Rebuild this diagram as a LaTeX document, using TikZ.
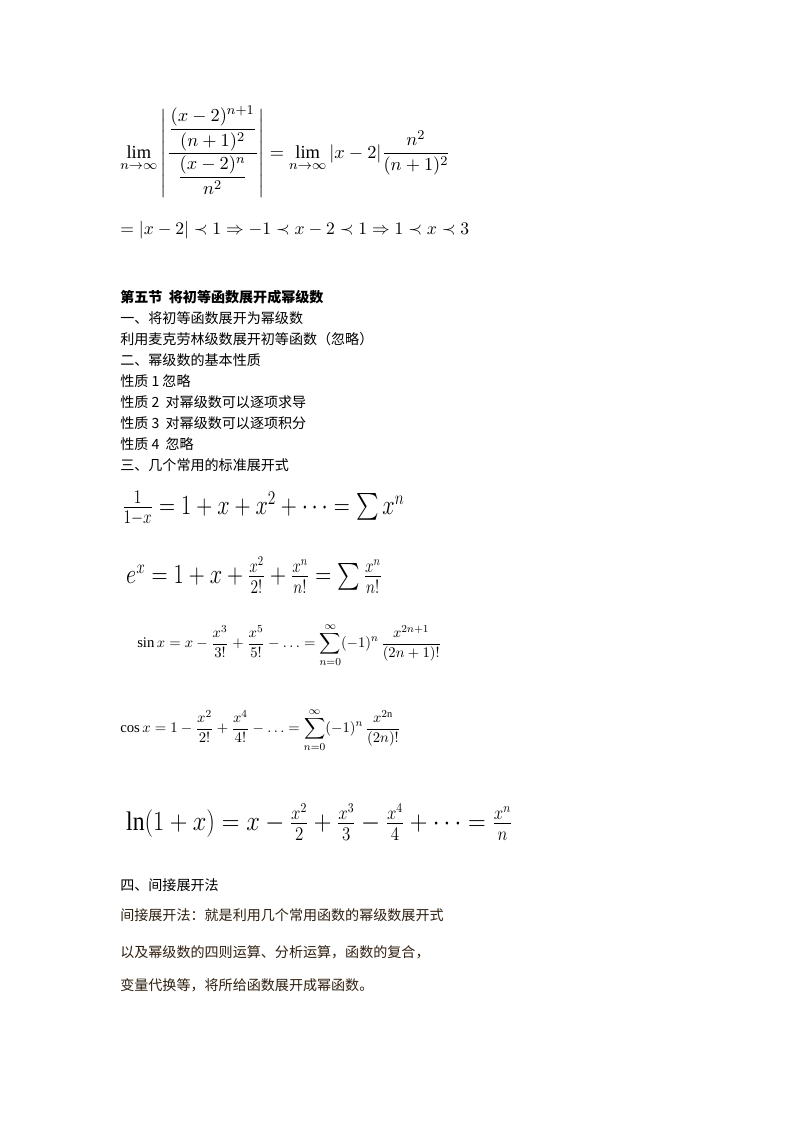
\documentclass[tikz,border=0pt]{standalone}
\usepackage{amsmath,amssymb}
\usepackage{fontspec}
\setmainfont{Liberation Serif}
\newfontfamily\cjk{Noto Sans CJK SC}
\begin{document}
\begin{tikzpicture}[x=0.02625cm,y=-0.02625cm,
  t/.style={anchor=west,inner sep=0pt,font=\cjk\fontsize{10.5}{12}\selectfont},
  tb/.style={t,font=\cjk\bfseries\fontsize{10.5}{12}\selectfont},
  tc/.style={t,text=black!75!brown},
  m/.style={anchor=west,inner sep=0pt,font=\fontsize{11}{13}\selectfont},
  g/.style={anchor=west,inner sep=0pt,font=\bfseries\fontsize{20}{22}\selectfont,xscale=0.8}]
\useasboundingbox (0,0) rectangle (800,1132);
\fill[white] (0,0) rectangle (800,1132);
\node[m,scale=1.25] (f1) at (120,152) {$\displaystyle\lim_{n\to\infty}\left|\frac{\dfrac{(x-2)^{n+1}}{(n+1)^2}}{\dfrac{(x-2)^{n}}{n^2}}\right|=\lim_{n\to\infty}|x-2|\frac{n^2}{(n+1)^2}$};
\node[m,scale=1.2] (f2) at (120,230) {$=|x-2|\prec1\Rightarrow-1\prec x-2\prec1\Rightarrow1\prec x\prec3$};
\node[tb] (h) at (120,297) {第五节\ \ 将初等函数展开成幂级数};
\node[t] (l1) at (120,318) {一、将初等函数展开为幂级数};
\node[t] (l2) at (120,339) {利用麦克劳林级数展开初等函数（忽略）};
\node[t] (l3) at (120,360) {二、幂级数的基本性质};
\node[t] (l4) at (120,381) {性质 1 忽略};
\node[t] (l5) at (120,402) {性质 2\ \ 对幂级数可以逐项求导};
\node[t] (l6) at (120,423) {性质 3\ \ 对幂级数可以逐项积分};
\node[t] (l7) at (120,444) {性质 4\ \ 忽略};
\node[t] (l8) at (120,465) {三、几个常用的标准展开式};
\node[g] (g1) at (122,508) {$\frac{1}{1-x}=1+x+x^2+\dots=\sum x^n$};
\node[g] (g2) at (126,575) {$e^x=1+x+\frac{x^2}{2!}+\frac{x^n}{n!}=\sum\frac{x^n}{n!}$};
\node[m] (s) at (137,645) {$\sin x=x-\dfrac{x^3}{3!}+\dfrac{x^5}{5!}-\ldots=\displaystyle\sum_{n=0}^{\infty}(-1)^n\,\frac{x^{2n+1}}{(2n+1)!}$};
\node[m] (c) at (120,730) {$\cos x=1-\dfrac{x^2}{2!}+\dfrac{x^4}{4!}-\ldots=\displaystyle\sum_{n=0}^{\infty}(-1)^n\,\frac{x^{2\mathrm{n}}}{(2n)!}$};
\node[g,xscale=1.1] (g3) at (126,822) {$\ln(1+x)=x-\frac{x^2}{2}+\frac{x^3}{3}-\frac{x^4}{4}+\dots=\frac{x^n}{n}$};
\node[t] (p0) at (120,885) {四、间接展开法};
\node[tc] (p1) at (120,915) {间接展开法：就是利用几个常用函数的幂级数展开式};
\node[tc] (p2) at (120,952) {以及幂级数的四则运算、分析运算，函数的复合，};
\node[tc] (p3) at (120,985) {变量代换等，将所给函数展开成幂函数。};
\end{tikzpicture}
\end{document}
